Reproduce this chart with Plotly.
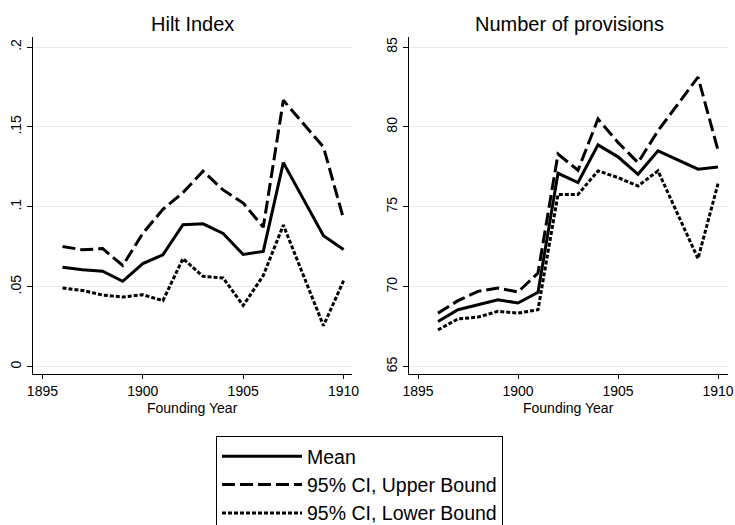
import plotly.graph_objects as go

years = [1896, 1897, 1898, 1899, 1900, 1901, 1902, 1903, 1904, 1905, 1906, 1907, 1909, 1910]

hilt_mean = [0.0622, 0.0607, 0.0597, 0.0534, 0.0645, 0.0700, 0.0888, 0.0894, 0.0834, 0.0702, 0.0721, 0.1277, 0.0819, 0.0733]
hilt_upper = [0.0752, 0.0731, 0.0739, 0.0633, 0.0834, 0.0984, 0.1089, 0.1223, 0.1106, 0.1024, 0.0873, 0.1667, 0.1374, 0.0924]
hilt_lower = [0.0492, 0.0477, 0.0448, 0.0436, 0.0450, 0.0413, 0.0676, 0.0565, 0.0555, 0.0383, 0.0570, 0.0886, 0.0256, 0.0538]

prov_mean = [67.83, 68.56, 68.87, 69.19, 68.98, 69.65, 77.10, 76.52, 78.88, 78.13, 77.04, 78.51, 77.36, 77.50]
prov_upper = [68.35, 69.13, 69.71, 69.92, 69.67, 70.86, 78.30, 77.29, 80.50, 79.03, 77.77, 79.76, 83.12, 78.55]
prov_lower = [67.30, 67.99, 68.10, 68.46, 68.35, 68.56, 75.78, 75.78, 77.25, 76.83, 76.31, 77.25, 71.76, 76.45]

series_names = ["Mean", "95% CI, Upper Bound", "95% CI, Lower Bound"]
dashes = ["solid", "13px,5px", "4px,2px"]

left_ticks = [0, 0.05, 0.1, 0.15, 0.2]
left_ticklabels = ["0", ".05", ".1", ".15", ".2"]
right_ticks = [65, 70, 75, 80, 85]
x_ticks = [1895, 1900, 1905, 1910]

FONT = "Liberation Sans, Arial, Helvetica, sans-serif"

fig = go.Figure()

for i, ys in enumerate([hilt_mean, hilt_upper, hilt_lower]):
    fig.add_trace(go.Scatter(x=years, y=ys, mode="lines", name=series_names[i],
                             legendgroup=f"g{i}",
                             line=dict(color="black", width=3, dash=dashes[i]),
                             xaxis="x", yaxis="y", showlegend=True))
for i, ys in enumerate([prov_mean, prov_upper, prov_lower]):
    fig.add_trace(go.Scatter(x=years, y=ys, mode="lines", name=series_names[i],
                             legendgroup=f"g{i}",
                             line=dict(color="black", width=3, dash=dashes[i]),
                             xaxis="x2", yaxis="y2", showlegend=False))

W, H = 735, 525
ydom = [1 - 374 / H, 1 - 37 / H]

common_x = dict(tickvals=x_ticks, ticks="outside", ticklen=4, tickcolor="black",
                showline=True, linecolor="black", linewidth=1, showgrid=False,
                zeroline=False, ticklabeloverflow="allow",
                tickfont=dict(size=14, color="black", family=FONT))
common_y = dict(ticks="outside", ticklen=5, tickcolor="black", showline=True, linecolor="black",
                linewidth=1, showgrid=True, gridcolor="#e8e8e8", gridwidth=1, zeroline=False,
                tickangle=-90, tickfont=dict(size=14, color="black", family=FONT), domain=ydom)

fig.update_layout(
    width=W, height=H,
    margin=dict(l=0, r=0, t=0, b=0, autoexpand=False),
    paper_bgcolor="white", plot_bgcolor="white",
    font=dict(family=FONT, color="black"),
    xaxis=dict(domain=[33 / W, 352 / W], range=[1894.53, 1910.42], anchor="y", **common_x),
    yaxis=dict(range=[-0.0046, 0.2063], tickvals=left_ticks, ticktext=left_ticklabels, anchor="x", **common_y),
    xaxis2=dict(domain=[409 / W, 728 / W], range=[1894.55, 1910.5], anchor="y2", **common_x),
    yaxis2=dict(range=[64.54, 85.63], tickvals=right_ticks, anchor="x2", **common_y),
    legend=dict(x=216 / W, y=1 - 436 / H, xanchor="left", yanchor="top",
                bordercolor="black", borderwidth=1, bgcolor="white",
                font=dict(size=19.5, color="black", family=FONT),
                itemwidth=80, tracegroupgap=0),
    annotations=[
        dict(text="Hilt Index", x=192.5 / W, y=1 - 24 / H, xref="paper", yref="paper",
             xanchor="center", yanchor="middle",
             showarrow=False, font=dict(size=20, color="black", family=FONT)),
        dict(text="Number of provisions", x=569 / W, y=1 - 24 / H, xref="paper", yref="paper",
             xanchor="center", yanchor="middle",
             showarrow=False, font=dict(size=20, color="black", family=FONT)),
        dict(text="Founding Year", x=192.5 / W, y=1 - 398 / H, xref="paper", yref="paper",
             xanchor="center", yanchor="top",
             showarrow=False, font=dict(size=14, color="black", family=FONT)),
        dict(text="Founding Year", x=568.5 / W, y=1 - 398 / H, xref="paper", yref="paper",
             xanchor="center", yanchor="top",
             showarrow=False, font=dict(size=14, color="black", family=FONT)),
    ],
)

fig.write_html("out.html", config={"displayModeBar": False},
               post_script="document.body.style.margin='0';document.body.style.overflow='hidden';")
